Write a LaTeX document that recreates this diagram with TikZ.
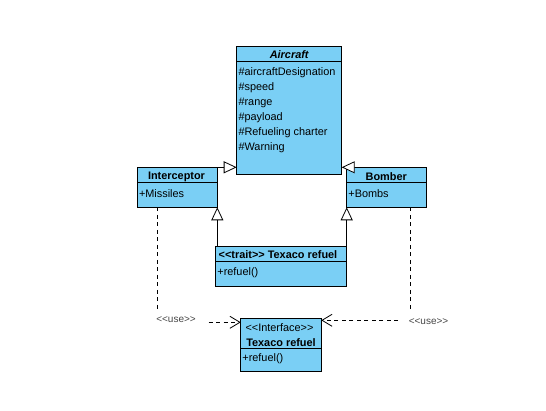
\documentclass[tikz,border=0pt]{standalone}
\usepackage{fontspec}
\setmainfont{Liberation Sans}[Ligatures=TeXOff]
\usetikzlibrary{arrows.meta}
\definecolor{umlfill}{RGB}{122,207,245}
\definecolor{usegray}{RGB}{70,70,70}
\tikzset{
  classbox/.style={draw=black, fill=umlfill, line width=0.9pt, anchor=north west, inner sep=0pt, outer sep=0pt},
  divider/.style={draw=black, line width=0.9pt},
  attr/.style={anchor=west, inner sep=0pt, font=\fontsize{10.9}{12}\selectfont},
  hdr/.style={anchor=center, inner sep=0pt, font=\fontsize{10.9}{12}\selectfont\bfseries},
  uselbl/.style={anchor=center, inner sep=0pt, text=usegray, font=\fontsize{10}{11}\selectfont},
  gen/.style={draw=black, line width=0.8pt, -{Triangle[open, length=13pt, width=12pt, fill=white]}},
  dep/.style={draw=black, line width=0.8pt, dash pattern=on 4pt off 3.5pt},
  deparrow/.style={dep, -{Straight Barb[length=10pt, width=12pt, line width=0.8pt]}}
}
\begin{document}
\begin{tikzpicture}[x=1pt, y=-1pt]
\useasboundingbox (0,0) rectangle (546,411);

% Aircraft
\node[classbox, minimum width=105pt, minimum height=128.3pt] (air) at (236.7,46) {};
\draw[divider] (236.7,61) -- (341.7,61);
\node[hdr, font=\fontsize{10.9}{12}\selectfont\bfseries\itshape] (airT) at (289.2,55) {Aircraft};
\node[attr] (a1) at (238.3,72.5) {\#aircraftDesignation};
\node[attr] (a2) at (238.3,87.5) {\#speed};
\node[attr] (a3) at (238.3,102.5) {\#range};
\node[attr] (a4) at (238.3,117.5) {\#payload};
\node[attr] (a5) at (238.3,132.3) {\#Refueling charter};
\node[attr] (a6) at (238.3,147.5) {\#Warning};

% Interceptor
\node[classbox, minimum width=80pt, minimum height=40pt] (int) at (137.3,167.3) {};
\draw[divider] (137.3,182.7) -- (217.3,182.7);
\node[hdr] (intT) at (176.5,176.5) {Interceptor};
\node[attr] (i1) at (138.8,193.5) {+Missiles};

% Bomber
\node[classbox, minimum width=79.3pt, minimum height=40pt] (bom) at (346.7,167.3) {};
\draw[divider] (346.7,182.7) -- (426,182.7);
\node[hdr] (bomT) at (386.3,176.5) {Bomber};
\node[attr] (b1) at (348.2,193.5) {+Bombs};

% Trait
\node[classbox, minimum width=130.6pt, minimum height=39.6pt] (trait) at (215.7,246.7) {};
\draw[divider] (215.7,261.3) -- (346.3,261.3);
\node[hdr] (traitT) at (278,255) {<{}<trait>{}> Texaco refuel};
\node[attr] (t1) at (217.2,272.3) {+refuel()};

% Interface
\node[classbox, minimum width=80.6pt, minimum height=53.3pt] (iface) at (240.7,318) {};
\draw[divider] (240.7,348.7) -- (321.3,348.7);
\node[anchor=center, inner sep=0pt, font=\fontsize{10.9}{12}\selectfont] (ifS) at (279.5,327.3) {<{}<Interface>{}>};
\node[hdr] (ifT) at (281,342.2) {Texaco refuel};
\node[attr] (f1) at (242.2,359) {+refuel()};

% Generalizations
\draw[gen] (int.north east) -- (int.north east -| air.west);
\draw[gen] (bom.north west) -- (bom.north west -| air.east);
\draw[gen] (int.south east |- trait.north) -- (int.south east);
\draw[gen] (bom.south west |- trait.north) -- (bom.south west);

% Dependencies <<use>>
\coordinate (lv) at (157.3,311.7);
\coordinate (lh) at (208.5,322.3);
\draw[dep] (int.south -| lv) -- (lv);
\draw[deparrow] (lh) -- (lh -| iface.west);
\node[uselbl] (lu) at (176,320) {<{}<use>{}>};

\coordinate (rv) at (410.3,311.7);
\coordinate (rh) at (398,320.3);
\draw[dep] (bom.south -| rv) -- (rv);
\draw[deparrow] (rh) -- (rh -| iface.east);
\node[uselbl] (ru) at (428.5,321.7) {<{}<use>{}>};
\end{tikzpicture}
\end{document}
